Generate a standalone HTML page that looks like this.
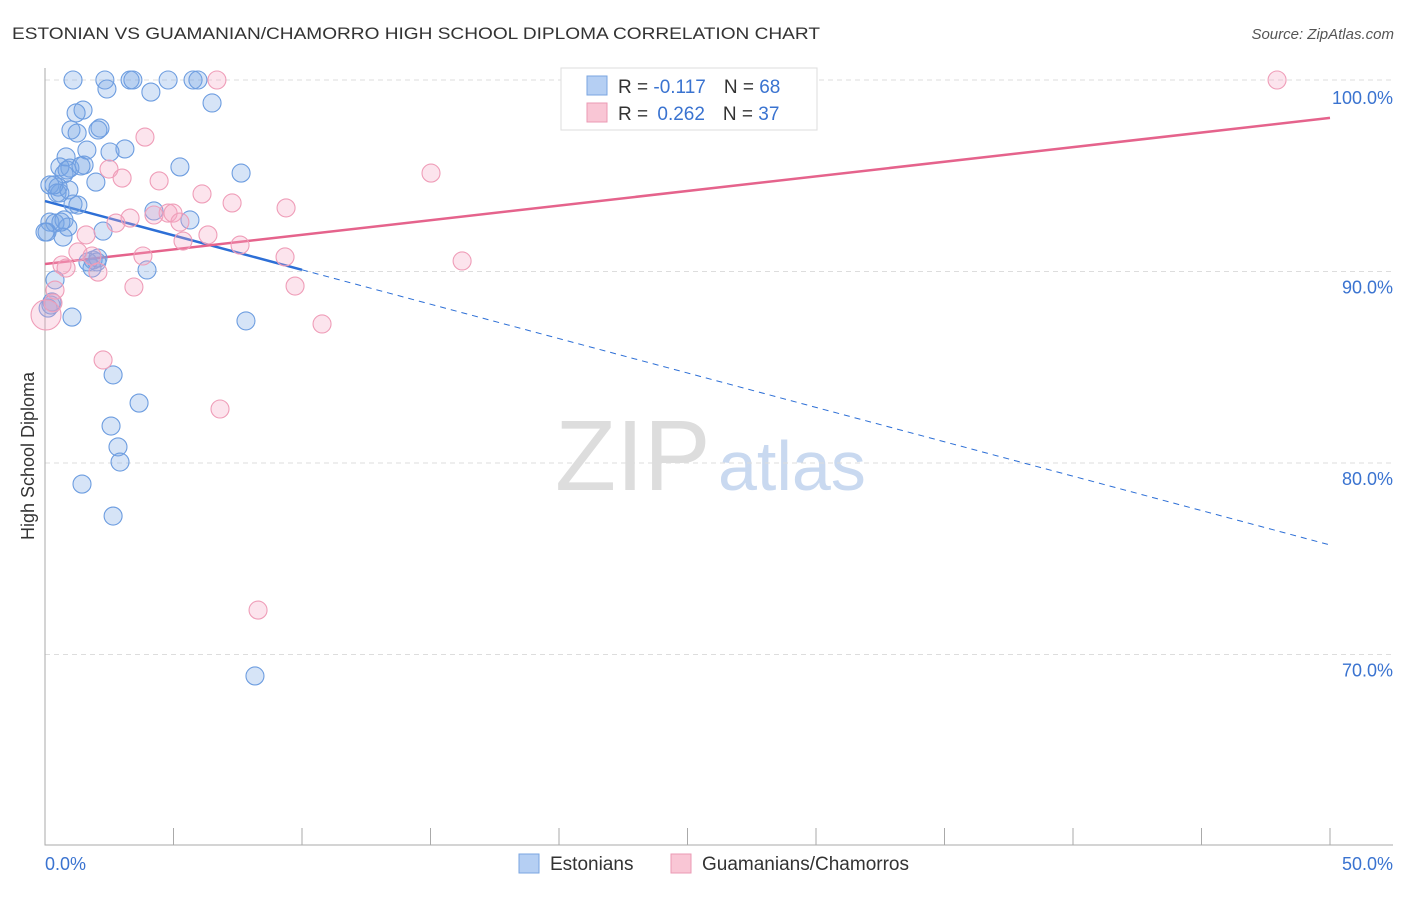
<!DOCTYPE html>
<html><head><meta charset="utf-8"><style>
body{margin:0;background:#fff;font-family:"Liberation Sans",sans-serif}
svg text{font-family:"Liberation Sans",sans-serif}
</style></head><body>
<svg id="chart" width="1406" height="892" xmlns="http://www.w3.org/2000/svg">
<text x="12" y="39" font-size="17" fill="#333" textLength="808" lengthAdjust="spacingAndGlyphs">ESTONIAN VS GUAMANIAN/CHAMORRO HIGH SCHOOL DIPLOMA CORRELATION CHART</text>
<text x="1394" y="39" font-size="15" fill="#555" text-anchor="end" font-style="italic">Source: ZipAtlas.com</text>
<g>
<text x="555" y="490" font-size="100" fill="#ddd" font-family="Liberation Serif,serif">ZIP</text>
<text x="718" y="490" font-size="70" fill="#c9d9f0">atlas</text>
</g>
<g id="grid"></g>
<g id="axes"></g>
<g id="lines"></g>
<g id="points"></g>
<text transform="translate(34,456) rotate(-90)" font-size="18" fill="#333" text-anchor="middle">High School Diploma</text>
<g>
<rect x="561" y="68" width="256" height="62" fill="#fff" stroke="#ddd"/>
<rect x="587" y="76" width="20" height="19" fill="#b5cff3" stroke="#7aa6e0"/>
<rect x="587" y="103" width="20" height="19" fill="#f9c6d5" stroke="#eb9ab4"/>
<text x="618" y="93" font-size="19" fill="#333">R = <tspan fill="#3a73d0">-0.117</tspan><tspan dx="18">N = </tspan><tspan fill="#3a73d0">68</tspan></text>
<text x="618" y="120" font-size="19" fill="#333">R = <tspan fill="#3a73d0" dx="4">0.262</tspan><tspan dx="18">N = </tspan><tspan fill="#3a73d0">37</tspan></text>
</g>
<g>
<rect x="519" y="854" width="20" height="19" fill="#b5cff3" stroke="#7aa6e0"/>
<text x="550" y="870" font-size="19" fill="#333">Estonians</text>
<rect x="671" y="854" width="20" height="19" fill="#f9c6d5" stroke="#eb9ab4"/>
<text x="702" y="870" font-size="19" fill="#333">Guamanians/Chamorros</text>
</g>
</svg>
<script>
const yTicks=[100,90,80,70];
const yTickLabels=["100.0%","90.0%","80.0%","70.0%"];
const xTickLabels=["0.0%","50.0%"];
const blueX=[1.09,2.33,3.31,3.42,4.79,5.76,5.95,2.41,4.12,6.50,1.48,1.21,1.01,1.25,2.14,2.06,3.11,1.63,2.53,0.82,0.58,0.97,1.52,0.74,5.25,7.63,1.98,0.19,0.51,0.58,1.09,4.24,5.64,0.19,0.39,0.74,0.89,2.26,0.70,0.08,1.87,2.02,1.83,3.97,0.39,0.27,1.05,7.82,2.65,3.66,2.57,2.84,2.92,1.44,2.65,8.17,0.47,0.35,0.86,1.40,0.62,0.93,1.28,1.67,0.12,0.23,2.06,0.0];
const blueY=[100,100,100,100,100,100,100,99.53,99.37,98.80,98.43,98.28,97.39,97.23,97.49,97.39,96.40,96.34,96.24,95.98,95.46,95.40,95.56,95.09,95.46,95.14,94.67,94.52,94.41,94.10,93.52,93.16,92.69,92.58,92.53,92.69,92.32,92.11,91.80,92.06,90.60,90.50,90.18,90.08,89.56,88.41,87.62,87.42,84.60,83.13,81.93,80.84,80.05,78.90,77.23,68.88,94.10,94.52,95.30,95.51,92.58,94.26,93.47,90.50,88.09,88.25,90.70,92.06];
const pinkX=[6.69,47.94,3.89,2.49,3.00,4.44,15.02,6.11,7.28,9.38,4.79,4.24,3.31,4.98,2.76,6.34,5.37,7.59,1.60,1.28,0.66,0.82,1.83,3.81,9.34,16.23,2.06,3.46,9.73,0.39,0.31,0.04,10.78,2.26,6.81,8.29,5.25];
const pinkY=[100,100,97.02,95.35,94.88,94.73,95.14,94.05,93.58,93.32,93.05,92.95,92.79,93.05,92.53,91.91,91.59,91.38,91.91,91.02,90.34,90.18,90.81,90.81,90.76,90.55,89.97,89.19,89.24,89.03,88.36,87.73,87.26,85.38,82.82,72.32,92.58];
const blueTrend=[93.68,75.72];
const pinkTrend=[90.39,98.02];
const blueSolidEnd=10;

const X0=45,X1=1330,Yb=845;
const sx=v=>X0+(v/50)*(X1-X0);
const sy=v=>80+(100-v)*19.15;
const NS="http://www.w3.org/2000/svg";
function mk(tag,attrs,parent){const e=document.createElementNS(NS,tag);for(const k in attrs)e.setAttribute(k,attrs[k]);parent.appendChild(e);return e;}
const grid=document.getElementById('grid'),axes=document.getElementById('axes'),lines=document.getElementById('lines'),pts=document.getElementById('points');
yTicks.forEach((t,i)=>{
  const g=mk('line',{x1:X0,x2:1393,y1:sy(t),y2:sy(t),stroke:'#ddd','stroke-dasharray':'5,4'},grid);
  
  
  const l=mk('text',{x:1393,y:sy(t)+(i==0?24:22),'font-size':18,fill:'#3a73d0','text-anchor':'end'},axes);
  l.textContent=yTickLabels[i];
  
  
});
const ax=mk('path',{d:`M${X0},68V${Yb}H1393`,stroke:'#aaa',fill:'none'},axes);


for(let i=0;i<=10;i++){
  const t=mk('line',{x1:sx(i*5),x2:sx(i*5),y1:828,y2:Yb,stroke:'#aaa'},axes);
  
  
}
xTickLabels.forEach((s,i)=>{
  const l=mk('text',{x:i?1393:45,y:870,'font-size':18,fill:'#3a73d0','text-anchor':i?'end':'start'},axes);
  l.textContent=s;
  
  
});
function lineAt(tr,x){return tr[0]+(tr[1]-tr[0])*x/50;}
let e;
e=mk('line',{x1:sx(0),y1:sy(lineAt(blueTrend,0)),x2:sx(blueSolidEnd),y2:sy(lineAt(blueTrend,blueSolidEnd)),stroke:'#2d6fd6','stroke-width':2.5},lines);


e=mk('line',{x1:sx(blueSolidEnd),y1:sy(lineAt(blueTrend,blueSolidEnd)),x2:sx(50),y2:sy(lineAt(blueTrend,50)),stroke:'#2d6fd6','stroke-width':1,'stroke-dasharray':'6,5'},lines);


e=mk('line',{x1:sx(0),y1:sy(pinkTrend[0]),x2:sx(50),y2:sy(pinkTrend[1]),stroke:'#e5638c','stroke-width':2.5},lines);


blueX.forEach((x,i)=>{
  const c=mk('circle',{cx:sx(x),cy:sy(blueY[i]),r:9,fill:'rgba(120,165,230,0.3)',stroke:'#6d9de0','stroke-width':1.1},pts);
  
  
});
pinkX.forEach((x,i)=>{
  const c=mk('circle',{cx:sx(x),cy:sy(pinkY[i]),r:i==31?15:9,fill:'rgba(245,165,195,0.3)',stroke:'#ef9db8','stroke-width':1.1},pts);
  
  
});
</script>
</body></html>
